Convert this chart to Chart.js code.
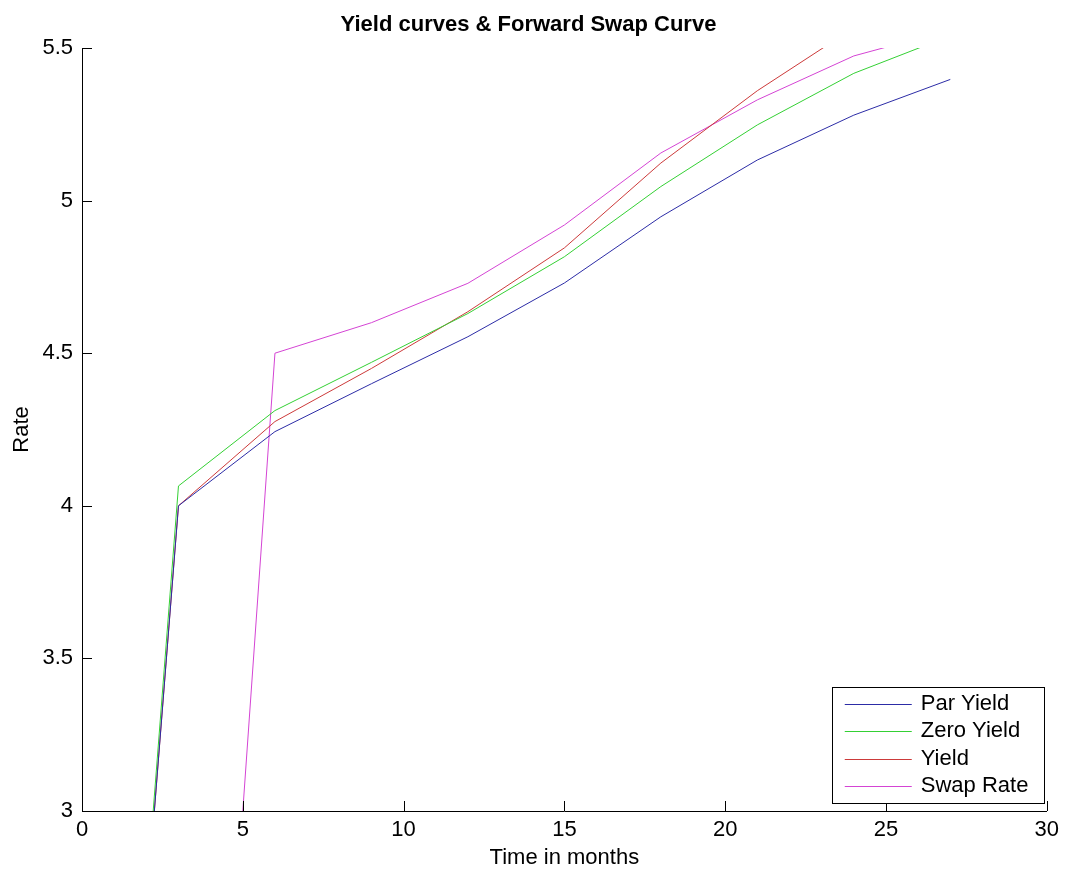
<!DOCTYPE html>
<html><head><meta charset="utf-8">
<script src="https://cdn.jsdelivr.net/npm/chart.js@4"></script>
<style>html,body{margin:0;padding:0;background:#fff}#wrap{width:1065px;height:871px}</style>
</head><body><div id="wrap"><canvas id="c" width="1065" height="871"></canvas></div>
<script>
// ---- data ----
const months    = [0, 3, 6, 9, 12, 15, 18, 21, 24, 27];
const parYield  = [0, 4.00, 4.243, 4.40, 4.554, 4.730, 4.947, 5.133, 5.280, 5.397];
const zeroYield = [0, 4.065, 4.312, 4.47, 4.630, 4.816, 5.046, 5.248, 5.417, 5.540];
const yieldCurve= [0, 4.00, 4.276, 4.45, 4.636, 4.845, 5.123, 5.360, 5.566, 5.750];
const swapRate  = [0, 0, 4.50, 4.60, 4.729, 4.920, 5.156, 5.330, 5.474, 5.560];
const seriesNames = ['Par Yield', 'Zero Yield', 'Yield', 'Swap Rate'];
const xTickValues = [0, 5, 10, 15, 20, 25, 30];
const xTickLabels = ['0', '5', '10', '15', '20', '25', '30'];
const yTickValues = [3, 3.5, 4, 4.5, 5, 5.5];
const yTickLabels = ['3', '3.5', '4', '4.5', '5', '5.5'];

const seriesValues = [parYield, zeroYield, yieldCurve, swapRate];
const seriesColors = ['#2c2ca6', '#34d034', '#cc3a3a', '#d444d4'];
const FONT = 'Liberation Sans, Arial, sans-serif';

const tickPlugin = {
  id: 'inTicks',
  afterDraw(chart) {
    const {ctx, chartArea: a, scales: {x, y}} = chart;
    ctx.save();
    ctx.strokeStyle = '#000'; ctx.lineWidth = 1;
    ctx.beginPath();
    x.ticks.forEach(t => {
      const px = Math.round(x.getPixelForValue(t.value)) + 0.5;
      ctx.moveTo(px, a.bottom); ctx.lineTo(px, a.bottom - 10);
    });
    y.ticks.forEach(t => {
      const py = Math.round(y.getPixelForValue(t.value)) + 0.5;
      ctx.moveTo(a.left, py); ctx.lineTo(a.left + 10, py);
    });
    ctx.stroke();
    ctx.restore();
  }
};

const legendPlugin = {
  id: 'boxLegend',
  afterDraw(chart) {
    const {ctx, chartArea: a} = chart;
    const ds = chart.data.datasets;
    const w = 212, rowH = 27.3, h = 116;
    const right = a.right - 3, bottom = a.bottom - 8;
    const left = right - w, top = bottom - h;
    ctx.save();
    ctx.fillStyle = '#fff';
    ctx.fillRect(left, top, w, h);
    ctx.strokeStyle = '#000'; ctx.lineWidth = 1;
    ctx.strokeRect(Math.round(left) + 0.5, Math.round(top) + 0.5, w, h);
    ctx.font = '22px ' + FONT;
    ctx.textBaseline = 'middle';
    ds.forEach((d, i) => {
      const cy = top + 17 + i * rowH;
      ctx.strokeStyle = seriesColors[i]; ctx.lineWidth = 1;
      ctx.beginPath();
      ctx.moveTo(left + 13, Math.round(cy) + 0.5);
      ctx.lineTo(left + 80, Math.round(cy) + 0.5);
      ctx.stroke();
      ctx.fillStyle = '#000';
      ctx.fillText(d.label, left + 89, cy);
    });
    ctx.restore();
  }
};

new Chart(document.getElementById('c'), {
  type: 'line',
  data: {
    datasets: seriesNames.map((name, k) => ({
      label: name,
      data: months.map((m, i) => ({x: m, y: seriesValues[k][i]})),
      borderColor: seriesColors[k],
      backgroundColor: seriesColors[k],
      borderWidth: 1,
      pointRadius: 0,
      tension: 0,
      fill: false
    }))
  },
  options: {
    responsive: false,
    animation: false,
    devicePixelRatio: 1,
    layout: {padding: {left: 9, right: 17, top: 0, bottom: 0}},
    plugins: {
      legend: {display: false},
      tooltip: {enabled: false},
      title: {
        display: true,
        text: 'Yield curves & Forward Swap Curve',
        color: '#000',
        font: {family: FONT, size: 22, weight: 'bold'},
        padding: {top: 12, bottom: 9.6}
      }
    },
    scales: {
      x: {
        type: 'linear', min: 0, max: 30,
        afterBuildTicks: s => { s.ticks = xTickValues.map(v => ({value: v})); },
        afterFit: s => { s.height = 60; },
        grid: {display: false, drawTicks: false},
        border: {display: true, color: '#000', width: 1},
        ticks: {
          color: '#000', font: {family: FONT, size: 22}, padding: 6,
          maxRotation: 0, autoSkip: false,
          callback: v => xTickLabels[xTickValues.indexOf(v)]
        },
        title: {display: true, text: 'Time in months', color: '#000',
                font: {family: FONT, size: 22}, padding: 0}
      },
      y: {
        type: 'linear', min: 3, max: 5.5,
        afterBuildTicks: s => { s.ticks = yTickValues.map(v => ({value: v})); },
        afterFit: s => { s.width = 73; },
        grid: {display: false, drawTicks: false},
        border: {display: true, color: '#000', width: 1},
        ticks: {
          color: '#000', font: {family: FONT, size: 22}, padding: 9,
          autoSkip: false,
          callback: v => yTickLabels[yTickValues.indexOf(v)]
        },
        title: {display: true, text: 'Rate', color: '#000',
                font: {family: FONT, size: 22}, padding: 0}
      }
    }
  },
  plugins: [tickPlugin, legendPlugin]
});
</script>
</body></html>
